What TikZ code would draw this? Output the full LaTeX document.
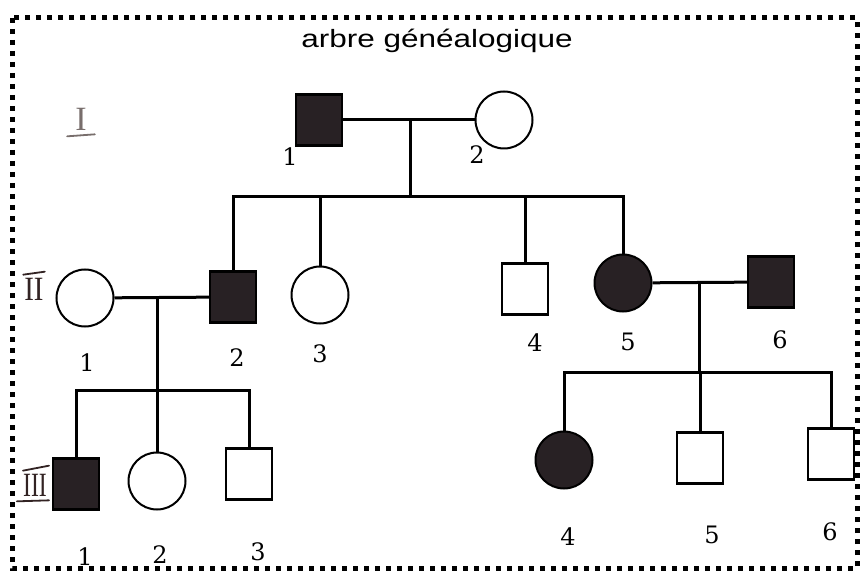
\documentclass[tikz,border=0pt]{standalone}
\usepackage{fontspec}
\setmainfont{DejaVu Serif}
\newfontfamily\titlefont{Liberation Sans}
\newfontfamily\markfont{Liberation Serif}
\definecolor{affected}{RGB}{40,33,36}
\definecolor{pencil}{RGB}{120,110,108}
\definecolor{ink}{RGB}{50,35,35}
\begin{document}
\begin{tikzpicture}[x=1pt,y=-1pt,
  male/.style={rectangle, draw=black, line width=2.2pt, minimum width=46pt,
    minimum height=51pt, inner sep=0pt, fill=white},
  female/.style={circle, draw=black, line width=2pt, minimum size=57pt,
    inner sep=0pt, fill=white},
  aff/.style={fill=affected},
  num/.style={font=\fontsize{24}{27}\selectfont},
  gen/.style={font=\markfont\fontsize{34}{38}\selectfont, inner sep=0pt},
  genline/.style={line width=1.8pt, line cap=round},
  link/.style={line width=3pt},
  frame/.style={line width=5pt, dash pattern=on 5pt off 6pt}]
\useasboundingbox (0,0) rectangle (866,585);

% dotted frame and title
\draw[frame] (12,18) rectangle (857,568);
\node[font=\titlefont\fontsize{25}{30}\selectfont, anchor=base, xscale=1.26]
  (title) at (437,48) {arbre généalogique};

% generation marks (shifts are in page units: positive yshift is upwards)
\node[gen, text=pencil] (gI) at (81,119) {I};
\draw[genline, pencil] ([xshift=-8pt,yshift=-6pt]gI.south west)
  -- ([xshift=8pt,yshift=-4pt]gI.south east);
\node[gen, text=ink, xscale=0.85] (gII) at (34,289) {II};
\draw[genline, ink] ([xshift=-1pt,yshift=3pt]gII.north west)
  -- ([xshift=1pt,yshift=6pt]gII.north east);
\node[gen, text=ink, xscale=0.7] (gIII) at (35,485) {III};
\draw[genline, ink] ([yshift=3pt]gIII.north west)
  -- ([xshift=2pt,yshift=8pt]gIII.north east);
\draw[genline, ink] ([xshift=-6pt,yshift=-5pt]gIII.south west)
  -- ([xshift=2pt,yshift=-4pt]gIII.south east);

% generation I
\node[male,aff] (I1) at (319,120) {};
\node[female] (I2) at (504,120) {};

% generation II
\node[female] (II1) at (85,298) {};
\node[male,aff] (II2) at (233,297) {};
\node[female] (II3) at (320,295) {};
\node[male] (II4) at (525,289) {};
\node[female,aff] (II5) at (623,283) {};
\node[male,aff] (II6) at (771,282) {};

% generation III
\node[male,aff] (III1) at (76,484) {};
\node[female] (III2) at (157,481) {};
\node[male] (III3) at (249,474) {};
\node[female,aff] (III4) at (564,460) {};
\node[male] (III5) at (700,458) {};
\node[male] (III6) at (831,454) {};

% couple I1 x I2 and their children
\coordinate (m1) at (410,120);
\coordinate (s1) at (410,197);
\draw[link] (I1) -- (I2);
\draw[link] (m1) -- (s1);
\draw[link] (II2.north) |- (s1) -| (II5.north);
\draw[link] (II3.north) -- (II3.north |- s1);
\draw[link] (II4.north) -- (II4.north |- s1);

% couple II1 x II2 and their children
\coordinate (m2) at (157,297);
\coordinate (s2) at (157,390);
\draw[link] (II1) -- (II2);
\draw[link] (m2) -- (III2.north);
\draw[link] (III1.north) |- (s2) -| (III3.north);

% couple II5 x II6 and their children
\coordinate (m3) at (699,282);
\coordinate (s3) at (699,372);
\draw[link] (II5) -- (II6);
\draw[link] (m3) -- (s3);
\draw[link] (III4.north) |- (s3) -| (III6.north);
\draw[link] (III5.north) -- (III5.north |- s3);

% individual numbers
\node[num] (nI1) at (290,157) {1};
\node[num] (nI2) at (477,155) {2};
\node[num] (nII1) at (87,363) {1};
\node[num] (nII2) at (237,358) {2};
\node[num] (nII3) at (320,354) {3};
\node[num] (nII4) at (535,343) {4};
\node[num] (nII5) at (628,342) {5};
\node[num] (nII6) at (780,340) {6};
\node[num] (nIII1) at (85,557) {1};
\node[num] (nIII2) at (160,555) {2};
\node[num] (nIII3) at (258,552) {3};
\node[num] (nIII4) at (568,537) {4};
\node[num] (nIII5) at (712,535) {5};
\node[num] (nIII6) at (830,532) {6};
\end{tikzpicture}
\end{document}
